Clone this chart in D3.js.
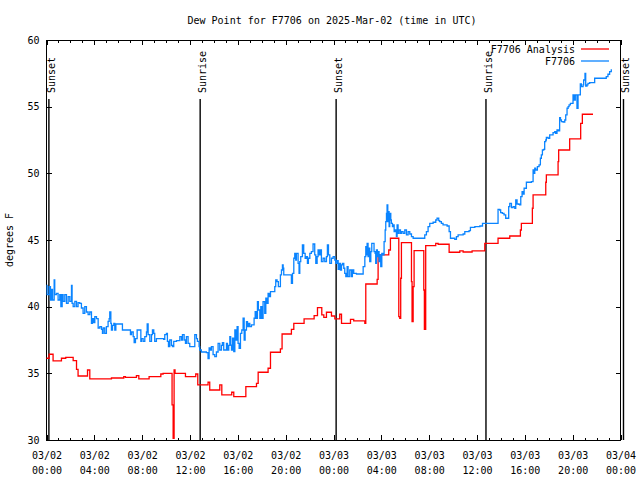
<!DOCTYPE html>
<html><head><meta charset="utf-8">
<script src="https://cdn.jsdelivr.net/npm/d3@7"></script>
<style>
body{margin:0;background:#fff}
svg{display:block}
text{font-family:"DejaVu Sans Mono",monospace;font-size:10px;fill:#000}
</style></head><body>
<svg id="c" width="640" height="480"></svg>
<script>
// ---------- DATA ----------
const titleText = "Dew Point for F7706 on 2025-Mar-02 (time in UTC)";
const yLabel = "degrees F";
const startISO = "2025-03-02T00:00:00Z";
const endISO = "2025-03-04T00:00:00Z";
const seriesNames = ["F7706 Analysis", "F7706"];
const yTicks = [30, 35, 40, 45, 50, 55, 60];

// hours after 03/02 00:00 UTC
const eventNames = ["Sunset", "Sunrise", "Sunset", "Sunrise", "Sunset"];
const eventHours = [0.2, 12.85, 24.22, 36.75, 48.25];

const analysisHours = [0.0,0.22,0.55,1.25,1.61,2.23,2.51,2.64,3.43,3.62,5.43,6.46,6.6,7.52,7.72,8.58,9.56,9.75,10.5,10.59,10.67,10.75,11.62,12.48,12.65,13.51,13.65,14.49,14.66,15.49,15.66,16.67,17.56,17.7,18.53,18.73,19.56,19.7,20.48,20.68,21.54,22.38,22.66,23.02,23.19,23.41,23.83,24.11,24.52,24.67,25.42,25.69,26.62,26.7,27.65,27.73,28.62,28.76,29.46,29.54,29.62,29.68,30.52,30.57,30.66,30.74,31.55,31.6,31.71,32.55,32.75,33.67,34.56,34.84,35.59,36.65,37.76,38.74,39.63,39.71,40.63,40.69,41.75,41.8,42.78,42.83,43.75,44.67,44.81,45.7];
const analysisValues = [36.13,36.43,35.93,36.13,36.2,35.95,35.3,34.8,35.25,34.58,34.65,34.75,34.7,34.83,34.58,34.75,34.95,35.0,32.63,30.13,35.25,35.0,34.75,34.95,34.13,34.33,33.75,34.13,33.38,33.58,33.25,34.0,34.25,35.08,35.38,36.58,36.83,37.95,38.3,38.75,39.08,39.33,39.93,39.38,39.2,39.58,39.3,39.08,39.43,38.75,39.05,38.93,38.75,41.7,42.05,43.88,44.25,45.13,39.25,39.13,42.13,44.8,41.88,38.88,41.5,44.2,41.25,38.3,44.58,44.75,44.68,44.08,44.18,44.1,44.18,44.75,45.13,45.3,45.75,46.25,47.38,48.38,49.33,49.88,50.88,51.75,52.58,53.75,54.43,54.43];

const obsHours = [0.0,0.05,0.22,0.33,0.42,0.5,0.64,0.69,0.83,0.97,1.11,1.2,1.31,1.39,1.53,1.67,1.81,1.95,2.09,2.14,2.23,2.37,2.51,2.64,2.78,2.92,3.06,3.2,3.34,3.48,3.62,3.76,3.84,3.95,4.04,4.18,4.32,4.46,4.6,4.68,4.74,4.87,5.01,5.15,5.24,5.29,5.38,5.43,5.52,5.63,5.71,5.8,6.27,6.35,6.91,7.02,7.11,7.25,7.33,7.44,7.58,7.8,7.89,7.94,8.08,8.22,8.36,8.42,8.5,8.64,8.78,8.86,8.97,9.05,9.19,9.8,9.89,10.03,10.11,10.2,10.31,10.45,10.53,10.64,10.87,11.15,11.29,11.37,11.51,11.62,11.7,11.84,11.98,12.26,12.4,12.54,12.62,12.76,12.81,12.95,13.37,13.51,13.6,13.71,13.79,13.93,14.07,14.21,14.35,14.49,14.63,14.71,14.82,15.05,15.13,15.24,
15.33,15.4,15.47,15.55,15.66,15.75,15.83,15.94,16.02,16.11,16.22,16.33,16.44,16.53,16.61,16.72,16.81,16.92,17.0,17.14,17.28,17.36,17.45,17.56,17.64,17.72,17.84,17.92,18.0,18.11,18.25,18.34,18.45,18.53,18.62,18.73,18.95,19.09,19.17,19.28,19.39,19.51,19.56,19.65,19.73,19.79,19.84,20.4,20.48,20.57,20.68,20.76,20.84,20.9,21.04,21.12,21.18,21.26,21.4,21.51,21.63,21.74,21.82,21.9,22.02,22.15,22.29,22.43,22.52,22.63,22.71,22.79,22.9,22.99,23.13,23.27,23.41,23.49,23.58,23.69,23.83,23.97,24.11,24.19,24.3,24.39,24.47,24.58,24.67,24.75,24.86,24.94,25.03,25.14,25.22,25.36,25.5,25.58,25.69,25.92,
26.48,26.62,26.7,26.76,26.81,26.89,26.98,27.03,27.12,27.2,27.39,27.48,27.53,27.59,27.67,27.73,27.81,27.87,27.95,28.04,28.15,28.23,28.32,28.37,28.43,28.48,28.54,28.59,28.65,28.7,28.79,28.84,28.93,28.98,29.07,29.15,29.26,29.32,29.4,29.48,29.6,29.68,29.82,29.96,30.1,30.24,30.38,30.52,30.66,31.49,31.63,31.77,31.91,32.05,32.33,32.55,32.66,32.8,32.88,33.02,33.16,33.5,33.67,33.78,34.14,34.28,34.42,34.84,34.98,35.34,35.45,35.82,36.24,36.46,
37.62,37.76,37.9,37.98,38.12,38.26,38.4,38.65,38.74,38.88,39.02,39.16,39.24,39.35,39.49,39.57,39.66,39.77,39.85,39.94,40.13,40.55,40.69,40.77,40.83,40.91,41.05,41.19,41.3,41.38,41.47,41.58,41.66,41.75,41.8,41.94,42.08,42.36,42.5,42.58,42.69,42.8,42.91,42.98,43.06,43.2,43.34,43.42,43.53,43.62,43.7,43.81,44.03,44.11,44.22,44.36,44.45,44.64,44.73,44.87,44.92,45.03,45.09,45.2,45.28,45.42,45.84,46.67,46.81,46.95,47.09,47.23];
const obsValues = [41.6,40.9,41.5,40.5,41.3,40.5,42.0,40.9,41.0,40.5,40.9,40.0,40.9,40.4,40.9,40.25,40.75,40.4,41.6,40.25,40.0,40.4,40.0,40.3,40.25,39.9,39.5,40.0,39.6,39.4,39.6,38.75,39.1,38.8,39.25,39.1,38.4,38.5,38.3,38.0,38.4,38.0,38.5,38.9,39.1,39.6,38.75,38.25,38.6,38.75,38.25,38.7,38.7,38.25,38.25,37.9,38.1,37.75,37.3,37.6,38.25,38.25,37.4,37.6,37.4,37.75,38.1,38.7,37.9,37.4,37.9,38.25,38.0,37.4,37.6,37.55,37.9,38.0,37.4,37.0,37.5,37.1,37.0,37.4,37.45,37.75,37.5,37.9,37.5,37.25,37.75,37.25,37.0,37.0,37.9,37.6,37.4,37.0,36.75,36.6,36.55,36.1,36.9,36.75,37.0,36.4,36.25,36.6,37.25,36.75,37.1,37.3,36.75,37.25,36.75,37.1,
37.75,37.12,36.75,37.63,36.63,38.25,37.5,38.5,37.25,36.88,38.0,38.25,39.13,37.5,38.25,38.88,38.5,38.75,38.5,38.63,38.63,39.13,39.63,39.13,40.38,39.75,39.13,40.0,39.13,40.38,39.5,40.63,40.25,41.0,40.75,41.13,41.13,41.5,42.0,41.88,41.5,41.5,42.38,42.75,43.13,42.88,42.38,42.38,41.75,42.5,43.63,44.0,43.5,44.0,43.25,42.5,43.38,43.75,44.63,44.0,43.63,43.75,43.25,43.63,44.0,44.13,44.7,43.88,43.25,43.75,44.25,43.88,44.25,43.38,43.63,43.38,43.75,44.63,43.88,43.25,43.63,43.75,43.5,43.25,43.45,42.8,43.25,42.75,43.13,43.25,42.88,42.5,42.25,43.0,42.25,42.75,42.25,42.75,42.5,42.45,
43.0,43.75,44.5,43.88,44.75,43.75,44.38,43.38,44.13,44.75,44.13,44.0,43.25,44.25,43.75,44.13,43.38,43.88,43.0,44.0,43.88,44.88,45.75,46.38,47.0,47.63,46.38,47.13,46.0,47.0,46.5,46.25,46.0,46.13,45.63,45.75,45.25,46.13,45.5,45.75,45.5,45.63,45.5,45.75,45.38,45.63,45.45,45.25,45.13,45.13,45.38,45.63,46.0,46.25,46.33,46.5,46.63,46.45,46.38,46.25,46.13,46.05,45.63,45.13,45.05,45.25,45.38,45.45,45.63,45.7,45.95,46.0,46.05,46.25,
46.25,47.3,47.25,47.05,47.0,46.88,46.63,47.5,47.75,47.43,47.5,47.38,48.0,47.7,47.68,47.63,48.25,48.63,48.45,48.88,49.33,49.38,50.25,50.0,50.38,50.25,50.5,50.63,51.13,51.38,51.75,51.8,52.38,52.5,52.7,52.63,52.88,53.05,53.13,53.0,53.25,53.18,54.18,54.0,53.88,53.85,54.0,54.38,54.88,55.0,55.13,55.25,55.88,55.5,55.88,54.88,55.88,56.7,56.5,56.63,57.0,57.5,56.55,56.63,56.75,56.8,57.13,57.13,57.25,57.43,57.63,57.8];

// ---------- RENDER ----------
const L = 46.5, R = 620.5, T = 40, B = 440;
const colors = ["#ff0000", "#0a84ff"];
const FONT = '"DejaVu Sans Mono", monospace';
const t0 = new Date(startISO);
const toDate = h => new Date(t0.getTime() + h * 3600e3);
const x = d3.scaleUtc().domain([t0, new Date(endISO)]).range([L, R]);
const y = d3.scaleLinear().domain([30, 60]).range([B, T]);
const svg = d3.select("#c");
svg.append("rect").attr("width", 640).attr("height", 480).attr("fill", "#fff");

function clean(g) { g.select(".domain").remove(); g.attr("font-family", FONT).attr("font-size", 10); g.selectAll("line").attr("shape-rendering", "crispEdges"); }

// minor x ticks bottom/top
svg.append("g").attr("transform", `translate(0,${B})`)
  .call(d3.axisBottom(x).ticks(d3.utcHour.every(1)).tickSize(-2.5).tickFormat("")).call(clean);
svg.append("g").attr("transform", `translate(0,${T})`)
  .call(d3.axisTop(x).ticks(d3.utcHour.every(1)).tickSize(-2.5).tickFormat("")).call(clean);
// major x ticks
const fmtD = d3.utcFormat("%m/%d"), fmtT = d3.utcFormat("%H:%M");
const xb = svg.append("g").attr("transform", `translate(0,${B})`)
  .call(d3.axisBottom(x).ticks(d3.utcHour.every(4)).tickSize(-5).tickFormat(() => "")).call(clean);
xb.selectAll(".tick text").each(function (d) {
  const t = d3.select(this).attr("y", null).attr("dy", null);
  t.append("tspan").attr("x", 0).attr("y", 18.5).text(fmtD(d));
  t.append("tspan").attr("x", 0).attr("y", 33.5).text(fmtT(d));
});
svg.append("g").attr("transform", `translate(0,${T})`)
  .call(d3.axisTop(x).ticks(d3.utcHour.every(4)).tickSize(-5).tickFormat("")).call(clean);
// y axes
svg.append("g").attr("transform", `translate(${L},0)`)
  .call(d3.axisLeft(y).tickValues(yTicks).tickSize(-5).tickPadding(7).tickFormat(d3.format("d"))).call(clean);
svg.append("g").attr("transform", `translate(${R},0)`)
  .call(d3.axisRight(y).tickValues(yTicks).tickSize(-5).tickFormat("")).call(clean);

// frame
svg.append("rect").attr("x", L).attr("y", T).attr("width", R - L).attr("height", B - T)
  .attr("fill", "none").attr("stroke", "#000").attr("stroke-width", 1).attr("shape-rendering", "crispEdges");

// sunrise/sunset markers
eventHours.forEach((h, i) => {
  const ex = x(toDate(h));
  svg.append("line").attr("x1", ex).attr("x2", ex).attr("y1", 99).attr("y2", B)
    .attr("stroke", "#000").attr("stroke-width", 1.4);
  svg.append("text").attr("transform", `translate(${ex + 6},93) rotate(-90)`)
    .attr("text-anchor", "start").text(eventNames[i]);
});

// series
const line = d3.line().x(d => x(d.t)).y(d => y(d.v)).curve(d3.curveStepAfter);
const analysis = analysisHours.map((h, i) => ({ t: toDate(h), v: analysisValues[i] }));
const obs = obsHours.map((h, i) => ({ t: toDate(h), v: obsValues[i] }));
[analysis, obs].forEach((s, i) => {
  svg.append("path").datum(s).attr("d", line).attr("fill", "none")
    .attr("stroke", colors[i]).attr("stroke-width", 1.3).attr("stroke-linejoin", "miter");
});

// legend
seriesNames.forEach((n, i) => {
  const ly = 49 + i * 12;
  svg.append("text").attr("x", 575).attr("y", ly + 4).attr("text-anchor", "end").text(n);
  svg.append("line").attr("x1", 581).attr("x2", 609).attr("y1", ly).attr("y2", ly)
    .attr("stroke", colors[i]).attr("stroke-width", 1.3);
});

// title and y label
svg.append("text").attr("x", 332).attr("y", 24).attr("text-anchor", "middle").text(titleText);
svg.append("text").attr("transform", "translate(13,240) rotate(-90)").attr("text-anchor", "middle").text(yLabel);
</script>
</body></html>
